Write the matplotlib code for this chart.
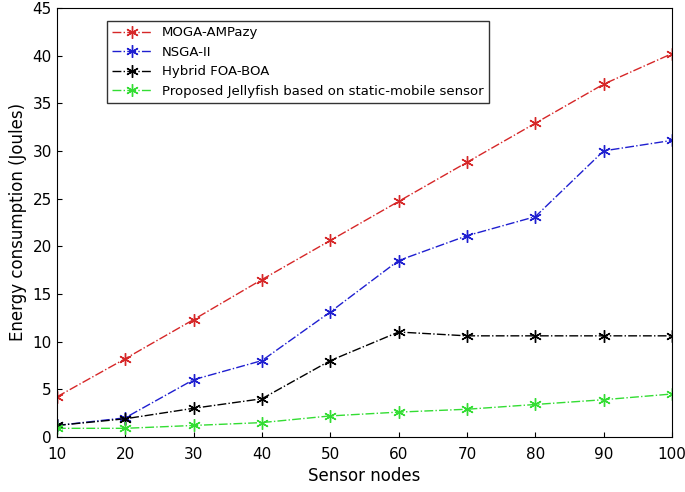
import matplotlib
matplotlib.use("Agg")
import matplotlib.pyplot as plt

nodes = [10, 20, 30, 40, 50, 60, 70, 80, 90, 100]
moga = [4.2, 8.2, 12.3, 16.5, 20.6, 24.7, 28.8, 32.9, 37.0, 40.2]
nsga = [1.2, 2.0, 6.0, 8.0, 13.1, 18.5, 21.1, 23.1, 30.0, 31.1]
hybrid = [1.2, 1.9, 3.0, 4.0, 8.0, 11.0, 10.6, 10.6, 10.6, 10.6]
jelly = [0.9, 0.9, 1.2, 1.5, 2.2, 2.6, 2.9, 3.4, 3.9, 4.5]

fig = plt.figure(figsize=(6.85, 4.92), dpi=100)
ax = fig.add_axes([0.083, 0.112, 0.898, 0.872])
series = [(moga, "#d62728", "MOGA-AMPazy"), (nsga, "#1f1fd0", "NSGA-II"),
          (hybrid, "black", "Hybrid FOA-BOA"),
          (jelly, "#33dd33", "Proposed Jellyfish based on static-mobile sensor")]
for y, c, lab in series:
    ax.plot(nodes, y, linestyle="-.", marker=(6, 2, 0), color=c, label=lab,
            lw=1, ms=9, mew=1)
ax.set_xlim(10, 100)
ax.set_ylim(0, 45)
ax.set_xticks(nodes)
ax.set_yticks(range(0, 46, 5))
ax.tick_params(labelsize=11, direction="in")
ax.tick_params(axis="x", pad=7)
ax.set_xlabel("Sensor nodes", fontsize=12)
ax.set_ylabel("Energy consumption (Joules)", fontsize=12)
ax.legend(loc="upper left", bbox_to_anchor=(0.07, 0.985), fontsize=9.5,
          fancybox=False, edgecolor="black", handlelength=3)
fig.savefig("out.png")
